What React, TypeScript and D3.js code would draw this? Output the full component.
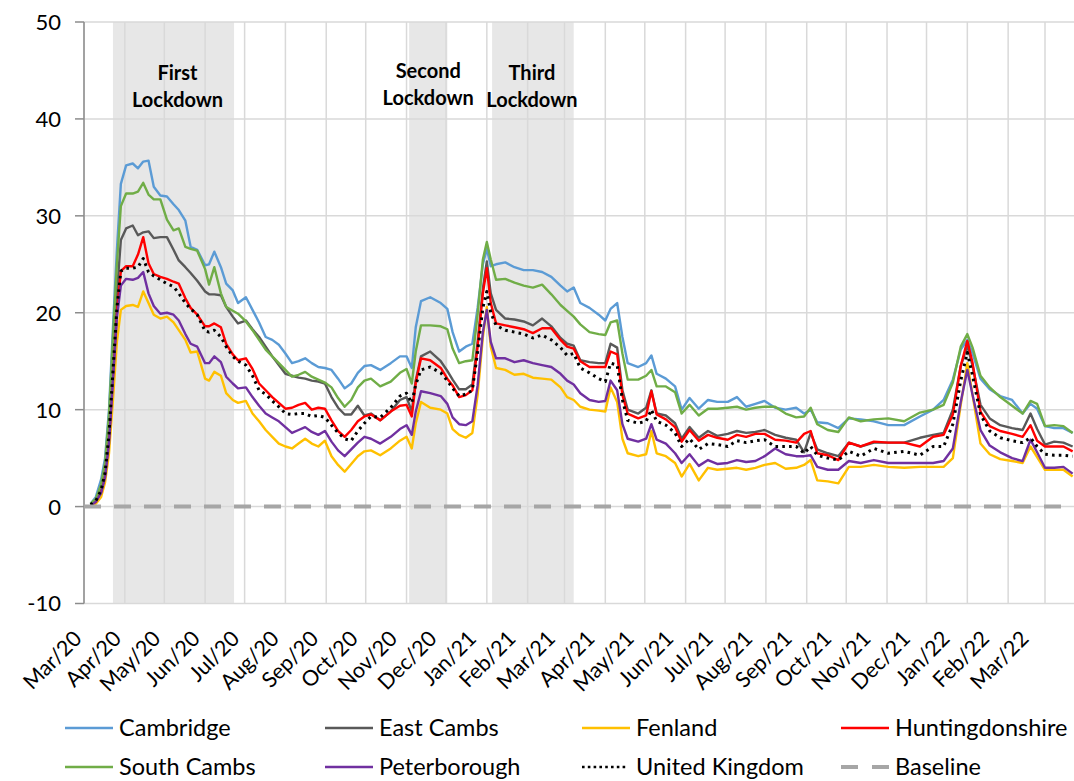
import React from "react";
import * as d3 from "d3";

// ---------- DATA ----------
const dates = [
  "2020-03-06","2020-03-10","2020-03-14","2020-03-17","2020-03-20","2020-03-23","2020-03-26","2020-03-29","2020-04-02",
  "2020-04-07","2020-04-11","2020-04-15","2020-04-19","2020-04-23","2020-04-28","2020-05-03","2020-05-08","2020-05-12","2020-05-17","2020-05-21",
  "2020-05-26","2020-06-01","2020-06-04","2020-06-08","2020-06-13","2020-06-17","2020-06-22","2020-06-26","2020-07-02","2020-07-07",
  "2020-07-12","2020-07-17","2020-07-22","2020-07-27","2020-08-01","2020-08-06","2020-08-11","2020-08-16","2020-08-21","2020-08-26",
  "2020-08-31","2020-09-05","2020-09-10","2020-09-15","2020-09-20","2020-09-25","2020-09-30","2020-10-05","2020-10-12","2020-10-20",
  "2020-10-27","2020-11-01","2020-11-05","2020-11-08","2020-11-12","2020-11-19","2020-11-27","2020-12-02","2020-12-06","2020-12-11",
  "2020-12-16","2020-12-21","2020-12-25","2020-12-29","2021-01-01","2021-01-04","2021-01-08","2021-01-15","2021-01-22","2021-01-29",
  "2021-02-05","2021-02-12","2021-02-19","2021-02-26","2021-03-03","2021-03-08","2021-03-13","2021-03-20","2021-03-27","2021-04-01",
  "2021-04-05","2021-04-10","2021-04-14","2021-04-18","2021-04-26","2021-05-02","2021-05-06","2021-05-10","2021-05-17","2021-05-24",
  "2021-05-29","2021-06-04","2021-06-11","2021-06-18","2021-06-25","2021-07-03","2021-07-10","2021-07-17","2021-07-24","2021-07-31",
  "2021-08-08","2021-08-16","2021-08-24","2021-08-30","2021-09-04","2021-09-09","2021-09-17","2021-09-25","2021-10-03","2021-10-12",
  "2021-10-22","2021-11-02","2021-11-14","2021-11-26","2021-12-06","2021-12-14","2021-12-21","2021-12-27","2022-01-01","2022-01-05",
  "2022-01-11","2022-01-18","2022-01-26","2022-02-04","2022-02-12","2022-02-18","2022-02-23","2022-03-01","2022-03-08","2022-03-15","2022-03-22"
];

const cambridge = [
  0.3,1.0,2.8,5.0,10.0,18.5,26.5,33.3,35.2,
  35.4,34.9,35.6,35.7,33.0,32.1,32.0,31.2,30.6,29.5,26.8,
  26.5,24.9,25.0,26.3,24.7,23.0,22.3,21.0,21.6,20.3,
  19.0,17.5,17.2,16.7,15.8,14.8,15.0,15.3,14.8,14.4,
  14.3,14.1,13.2,12.2,12.7,13.8,14.5,14.6,14.1,14.8,
  15.5,15.5,14.3,18.5,21.2,21.6,21.0,20.4,18.0,16.0,
  16.5,16.8,20.5,25.0,26.6,24.8,25.0,25.2,24.7,24.4,
  24.4,24.2,23.7,22.8,22.2,22.6,21.0,20.5,19.8,19.2,
  20.4,21.0,17.5,14.8,14.4,14.8,15.6,13.7,13.2,12.4,
  10.0,11.2,10.1,11.0,10.8,10.8,11.3,10.3,10.6,10.9,
  10.2,10.0,10.2,9.6,10.0,8.7,8.6,8.1,9.1,9.0,
  8.8,8.4,8.4,9.3,10.0,11.0,13.1,16.2,17.2,15.8,
  13.2,12.1,11.4,11.0,9.6,10.6,10.1,8.3,8.1,8.1,7.6
];

const eastCambs = [
  0.2,0.6,1.8,3.8,8.0,15.0,22.0,27.5,28.7,
  29.0,28.0,28.3,28.4,27.7,27.8,27.8,26.5,25.4,24.7,24.1,
  23.3,22.2,21.9,21.9,21.8,20.6,19.6,18.9,19.2,18.3,
  17.5,16.5,15.5,14.6,13.7,13.5,13.3,13.2,13.0,12.9,
  12.7,11.3,10.2,9.5,9.5,10.4,9.4,9.6,8.9,9.8,
  11.0,11.3,9.8,13.0,15.5,16.0,15.0,14.0,13.1,12.1,
  12.1,12.6,17.0,22.5,25.3,22.0,20.3,19.4,19.3,19.1,
  18.7,19.4,18.6,17.4,16.8,16.6,15.1,14.9,14.8,14.8,
  16.8,16.4,12.0,10.0,9.6,10.2,12.0,9.6,9.4,8.6,
  7.0,8.2,7.1,7.8,7.3,7.5,7.8,7.6,7.7,7.9,
  7.4,7.1,6.9,5.6,7.6,5.9,5.5,5.2,6.6,6.2,
  6.6,6.6,6.6,7.1,7.4,7.6,10.0,14.5,16.6,14.5,
  10.5,9.1,8.4,8.1,7.9,9.6,8.0,6.4,6.7,6.6,6.2
];

const fenland = [
  0.0,0.3,1.0,2.5,5.5,11.0,17.0,20.3,20.7,
  20.8,20.6,22.2,21.0,19.8,19.4,19.6,19.0,18.2,17.2,15.9,
  16.0,13.2,13.0,13.9,13.5,11.7,11.0,10.7,10.9,9.6,
  8.8,7.9,7.2,6.5,6.2,6.0,6.5,7.0,6.5,6.2,
  6.8,5.2,4.3,3.6,4.4,5.2,5.7,5.8,5.3,6.0,
  6.8,7.2,6.0,8.6,10.8,10.2,10.0,9.6,8.0,7.4,
  7.1,7.6,11.5,17.5,20.6,16.5,14.3,14.1,13.6,13.7,
  13.3,13.2,13.1,12.3,11.3,11.0,10.3,10.0,9.9,9.8,
  12.3,10.8,7.0,5.5,5.2,5.4,7.8,5.5,5.2,4.5,
  3.1,4.4,2.7,4.0,3.8,3.9,4.0,3.8,4.0,4.3,
  4.5,3.9,4.0,4.3,4.8,2.7,2.6,2.4,4.1,4.1,
  4.3,4.1,4.0,4.1,4.1,4.1,5.0,10.5,14.8,11.5,
  6.5,5.4,4.9,4.7,4.5,6.2,5.1,3.8,3.8,3.8,3.1
];

const huntingdonshire = [
  0.1,0.5,1.5,3.2,7.0,13.5,20.0,24.3,24.8,
  24.8,26.0,27.8,25.1,24.0,23.7,23.5,23.2,23.0,21.5,20.5,
  19.8,18.6,18.6,18.9,18.5,16.8,15.7,15.1,15.3,14.2,
  12.7,12.0,11.3,10.7,10.1,10.2,10.5,10.7,10.0,10.2,
  10.1,8.9,7.8,7.2,7.9,8.8,9.3,9.5,8.9,9.8,
  10.4,10.5,9.3,12.8,15.3,15.1,14.3,13.2,12.5,11.3,
  11.5,12.0,16.5,22.0,24.6,21.0,18.9,18.7,18.5,18.3,
  17.9,18.4,18.4,17.2,16.5,16.3,15.0,14.4,14.4,14.4,
  16.0,15.7,11.5,9.6,9.1,9.4,11.9,9.5,9.0,8.2,
  6.7,7.9,6.8,7.4,7.1,6.9,7.4,7.2,7.5,7.5,
  6.9,6.8,6.6,7.5,7.8,5.5,5.3,4.8,6.6,6.2,
  6.7,6.6,6.6,6.2,7.2,7.4,9.5,14.5,17.1,14.8,
  9.8,8.3,7.8,7.5,7.2,8.4,6.8,6.2,6.2,6.2,5.7
];

const southCambs = [
  0.3,0.8,2.3,4.5,9.5,17.5,25.0,31.0,32.3,
  32.3,32.5,33.4,32.2,31.7,31.7,29.6,28.5,28.7,26.8,26.6,
  26.4,24.5,22.9,24.7,22.0,20.6,20.2,19.9,19.1,18.2,
  17.2,16.2,15.5,14.8,14.1,13.4,13.6,13.9,13.4,13.1,
  12.8,12.3,11.2,10.3,11.0,12.3,13.0,13.2,12.4,12.9,
  13.8,14.2,12.7,16.0,18.7,18.7,18.6,18.3,16.3,14.8,
  15.0,15.1,19.8,25.5,27.3,25.5,23.4,23.5,23.1,22.8,
  22.6,22.9,21.9,20.8,20.2,19.6,18.8,18.0,17.8,17.7,
  19.0,19.2,15.8,13.1,13.1,13.5,14.1,12.4,12.4,11.8,
  9.6,10.5,9.4,10.1,10.1,10.2,10.3,10.0,10.2,10.3,
  10.3,9.6,9.2,9.3,10.2,8.5,7.9,7.7,9.2,8.8,
  9.0,9.1,8.8,9.7,10.0,10.5,12.8,16.5,17.8,16.4,
  13.5,12.3,11.3,10.4,9.6,10.9,10.6,8.3,8.4,8.3,7.6
];

const peterborough = [
  0.1,0.5,1.4,3.0,6.5,13.0,19.5,22.8,23.5,
  23.4,23.6,24.2,22.0,20.7,19.9,20.0,19.8,19.2,17.8,16.8,
  16.5,14.8,14.8,15.5,14.9,13.4,12.7,12.2,12.3,11.3,
  10.4,9.6,9.2,8.8,8.2,7.6,7.9,8.2,7.7,7.4,
  7.8,6.7,5.8,5.2,5.9,6.6,7.2,7.0,6.5,7.2,
  8.0,8.4,7.4,9.8,11.9,11.7,11.4,10.6,9.2,8.5,
  8.4,8.8,12.5,18.0,20.3,17.0,15.3,15.3,14.9,15.1,
  14.8,14.6,14.4,13.7,13.0,12.6,11.7,11.0,10.8,10.9,
  13.0,12.0,8.5,7.0,6.7,7.0,8.5,6.9,6.5,5.5,
  4.5,5.4,4.2,4.8,4.4,4.5,4.8,4.6,4.7,5.2,
  6.0,5.4,5.2,5.2,5.3,4.1,3.8,3.8,4.7,4.5,
  4.8,4.5,4.5,4.5,4.5,4.7,6.0,10.8,14.1,11.5,
  7.9,6.3,5.6,5.0,4.7,6.9,5.6,4.0,4.0,4.1,3.4
];

const unitedKingdom = [
  0.2,0.6,1.7,3.5,7.5,14.0,20.5,24.3,24.6,
  24.6,24.7,25.6,24.2,23.8,23.4,23.0,22.7,22.0,21.0,20.4,
  19.8,18.1,18.0,18.2,17.5,16.5,15.5,15.0,14.6,13.5,
  12.0,11.6,10.9,10.3,9.6,9.5,9.6,9.6,9.3,9.4,
  9.2,8.4,7.6,7.0,6.8,7.8,8.6,9.3,9.2,10.2,
  11.4,11.7,10.7,12.6,14.1,14.4,13.8,13.0,12.2,11.4,
  11.6,12.0,16.0,20.5,22.2,20.0,18.7,18.2,18.0,17.8,
  17.4,17.7,17.2,16.4,15.6,15.8,14.3,13.8,13.2,12.9,
  14.8,14.6,11.0,8.9,8.6,8.8,10.0,8.8,8.4,7.6,
  6.2,7.0,5.9,6.5,6.4,6.2,6.8,6.6,6.8,6.9,
  6.2,6.2,6.2,5.5,6.2,5.3,5.0,4.8,5.7,5.2,
  6.0,5.5,5.7,5.3,6.2,6.2,8.5,13.0,15.9,13.5,
  9.5,7.8,7.1,6.8,6.6,7.1,6.2,5.4,5.3,5.3,5.2
];

const baselineDates = ["2020-03-01", "2022-03-23"];
const baselineValues = [0, 0];

const monthLabels = [
  "Mar/20","Apr/20","May/20","Jun/20","Jul/20","Aug/20","Sep/20","Oct/20","Nov/20","Dec/20",
  "Jan/21","Feb/21","Mar/21","Apr/21","May/21","Jun/21","Jul/21","Aug/21","Sep/21","Oct/21",
  "Nov/21","Dec/21","Jan/22","Feb/22","Mar/22"
];
const yTicks = [-10, 0, 10, 20, 30, 40, 50];

const lockdownNames = [["First", "Lockdown"], ["Second", "Lockdown"], ["Third", "Lockdown"]];
const lockdownStarts = ["2020-03-23", "2020-11-03", "2021-01-05"];
const lockdownEnds = ["2020-06-23", "2020-12-02", "2021-03-08"];

const seriesNames = ["Cambridge","East Cambs","Fenland","Huntingdonshire","South Cambs","Peterborough","United Kingdom"];
const seriesValues = [cambridge, eastCambs, fenland, huntingdonshire, southCambs, peterborough, unitedKingdom];
const seriesColors = ["#5B9BD5","#595959","#FFC000","#FF0000","#70AD47","#7030A0","#000000"];

// ---------- LAYOUT ----------
const W = 1074, H = 781;
const FONT = "Lato, 'Noto Sans', sans-serif";
const parse = d3.utcParse("%Y-%m-%d");
const labelShift = [4, 0, -1];

export default function App() {
  const x = d3.scaleUtc()
    .domain([parse("2020-03-01")!, parse("2022-03-01")!])
    .range([84, 1045]);
  const y = d3.scaleLinear().domain([-10, 50]).range([603.5, 22]);
  const plotLeft = 84, plotRight = W;
  const labelX = d3.scalePoint<string>().domain(monthLabels).range([83, 1030]);

  const months = d3.utcMonth.range(parse("2020-03-01")!, parse("2022-03-02")!);

  const line = d3.line<[Date, number]>()
    .x(d => x(d[0]))
    .y(d => y(d[1]));

  const parsedDates = dates.map(s => parse(s)!);
  const seriesPaths = seriesValues.map(vals =>
    line(parsedDates.map((d, i) => [d, vals[i]] as [Date, number])) || ""
  );
  const baselinePath = line(baselineDates.map((s, i) => [parse(s)!, baselineValues[i]] as [Date, number])) || "";

  const legendCols = [65, 325, 582, 841];
  const legendRows = [728, 767];
  const legendItems = [
    ...seriesNames.map((n, i) => ({ name: n, color: seriesColors[i], kind: i === 6 ? "dot" : "solid" })),
    { name: "Baseline", color: "#A6A6A6", kind: "dash" },
  ];

  return (
    <svg width={W} height={H} style={{ position: "absolute", left: 0, top: 0, background: "#fff" }}
      fontFamily={FONT}>
      <rect x={0} y={0} width={W} height={H} fill="#fff" />
      {/* lockdown shading */}
      {lockdownStarts.map((s, i) => (
        <rect key={"sh" + i} x={x(parse(s)!)} y={y(50)}
          width={x(parse(lockdownEnds[i])!) - x(parse(s)!)} height={y(-10) - y(50)} fill="#E7E7E7" />
      ))}
      {/* horizontal gridlines */}
      {yTicks.map(t => (
        <line key={"hg" + t} x1={plotLeft} x2={plotRight} y1={y(t)} y2={y(t)} stroke="#D9D9D9" strokeWidth={1.5} />
      ))}
      {/* vertical gridlines */}
      {months.map((m, i) => (
        <line key={"vg" + i} x1={x(m)} x2={x(m)} y1={y(50)} y2={y(-10)} stroke="#D9D9D9" strokeWidth={1.5} />
      ))}
      {/* y axis */}
      <line x1={plotLeft} x2={plotLeft} y1={y(50)} y2={y(-10)} stroke="#8C8C8C" strokeWidth={1.5} />
      {yTicks.map(t => (
        <g key={"yt" + t}>
          <line x1={plotLeft - 9} x2={plotLeft} y1={y(t)} y2={y(t)} stroke="#8C8C8C" strokeWidth={1.5} />
          <text x={61} y={y(t)} dy="0.36em" textAnchor="end" fontSize={22} fill="#000">{t}</text>
        </g>
      ))}
      {/* x labels */}
      {monthLabels.map(l => (
        <text key={"xl" + l} transform={`translate(${labelX(l)},640) rotate(-45)`} textAnchor="end"
          fontSize={21.5} fill="#000">{l}</text>
      ))}
      {/* series */}
      {seriesPaths.map((p, i) => (
        <path key={"s" + i} d={p} fill="none" stroke={seriesColors[i]}
          strokeWidth={i === 6 ? 3 : 2.4}
          strokeDasharray={i === 6 ? "2.6 4.2" : undefined}
          strokeLinejoin="round" />
      ))}
      <path d={baselinePath} fill="none" stroke="#A6A6A6" strokeWidth={4} strokeDasharray="17 13" />
      {/* lockdown labels */}
      {lockdownStarts.map((s, i) => {
        const cx = (x(parse(s)!) + x(parse(lockdownEnds[i])!)) / 2 + labelShift[i];
        return (
          <text key={"ll" + i} x={cx} textAnchor="middle" fontSize={20} fontWeight="bold" fill="#000">
            <tspan x={cx} y={i === 1 ? 78 : 80}>{lockdownNames[i][0]}</tspan>
            <tspan x={cx} y={i === 1 ? 105 : 107}>{lockdownNames[i][1]}</tspan>
          </text>
        );
      })}
      {/* legend */}
      {legendItems.map((it, i) => {
        const lx = legendCols[i % 4];
        const ly = legendRows[Math.floor(i / 4)];
        return (
          <g key={"lg" + i}>
            {it.kind === "solid" && (
              <line x1={lx} x2={lx + 48} y1={ly} y2={ly} stroke={it.color} strokeWidth={2.6} />
            )}
            {it.kind === "dot" && (
              <line x1={lx} x2={lx + 46} y1={ly} y2={ly} stroke={it.color} strokeWidth={2.6} strokeDasharray="2.6 3.2" />
            )}
            {it.kind === "dash" && (
              <line x1={lx} x2={lx + 48} y1={ly} y2={ly} stroke={it.color} strokeWidth={4} strokeDasharray="17 14" />
            )}
            <text x={lx + 54} y={ly} dy="0.35em" fontSize={23.5} fill="#000">{it.name}</text>
          </g>
        );
      })}
    </svg>
  );
}
